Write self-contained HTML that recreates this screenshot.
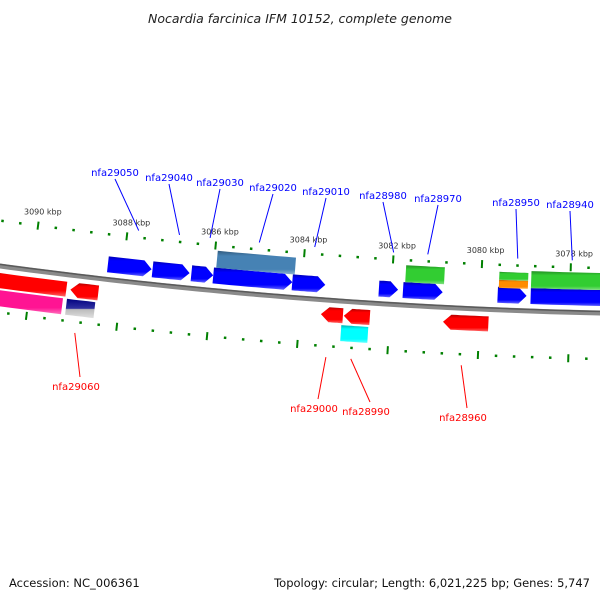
<!DOCTYPE html>
<html><head><meta charset="utf-8"><style>
html,body{margin:0;padding:0;background:#fff;width:600px;height:600px;overflow:hidden}
svg{display:block}
text{font-family:"DejaVu Sans","Liberation Sans",sans-serif}
</style></head><body>
<svg id="map" width="600" height="600" viewBox="0 0 600 600">
<defs></defs>
<text x="300" y="23" text-anchor="middle" font-size="12.5" font-style="italic" fill="#222">Nocardia farcinica IFM 10152, complete genome</text>
<g id="ticks"></g>
<g id="backbone"></g>
<g id="genes"></g>
<g id="labels"></g>
<text x="9" y="587" font-size="11.5" fill="#111">Accession: NC_006361</text>
<text x="590" y="587" text-anchor="end" font-size="11.5" fill="#111">Topology: circular; Length: 6,021,225 bp; Genes: 5,747</text>
</svg>
<script>
// data
const tickMajorKbp = [3090, 3088, 3086, 3084, 3082, 3080, 3078];
const tickLabels = ["3090 kbp", "3088 kbp", "3086 kbp", "3084 kbp", "3082 kbp", "3080 kbp", "3078 kbp"];
const geneNames = ["nfa29050","nfa29040","nfa29030","nfa29020","nfa29010","nfa28980","nfa28970","nfa28950a","nfa28950","nfa28940","nfa28940b","nfa28960","nfa29060","nfa29060b","nfa29000","nfa28990","nfa28990b","nfa28960r","nfa29070","nfa29080","nfa28950o","nfa28930"];
const geneStart = [3088.35,3087.35,3086.48,3085.99,3084.22,3082.28,3081.74,3079.62,3085.94,3081.70,3079.60,3078.88,3089.11,3089.16,3083.53,3083.02,3083.06,3080.81,3091.5,3091.5,3079.60,3078.88];
const geneEnd   = [3087.37,3086.52,3085.99,3084.22,3083.48,3081.85,3080.85,3078.97,3084.18,3080.83,3078.95,3077.0,3088.49,3088.53,3083.04,3082.44,3082.46,3079.80,3089.20,3089.25,3078.95,3077.0];
const geneStrand = [1,1,1,1,1,1,1,1,0,0,0,0,-1,0,-1,-1,0,-1,-1,0,0,0];
const geneRow = [1,1,1,1,1,1,1,1,2,2,2,1,1,2,1,1,2,1,1,2,2,2];
const geneSide = [-1,-1,-1,-1,-1,-1,-1,-1,-1,-1,-1,-1,1,1,1,1,1,1,1,1,-1,-1];
const geneColor = ["#0000ff","#0000ff","#0000ff","#0000ff","#0000ff","#0000ff","#0000ff","#0000ff","#4682b4","#32cd32","#32cd32","#0000ff","#ff0000","#000080","#ff0000","#ff0000","#00ffff","#ff0000","#ff0000","#ff1493","#ff8c00","#32cd32"];
const labelTexts = ["nfa29050","nfa29040","nfa29030","nfa29020","nfa29010","nfa28980","nfa28970","nfa28950","nfa28940","nfa29060","nfa29000","nfa28990","nfa28960"];
const labelKbp = [3087.75,3086.83,3086.14,3085.03,3083.78,3082.0,3081.23,3079.2,3077.97,3088.9,3083.35,3082.8,3080.36];
const labelSide = [-1,-1,-1,-1,-1,-1,-1,-1,-1,1,1,1,1];
// label text layout (annotation placement, not data)
const labelTextX = [115,169,220,273,326,383,438,516,570,76,314,366,463];
const labelTextY = [176,181,186,191,195,199,202,206,208,390,412,415,421];

const NS="http://www.w3.org/2000/svg";
function el(t,a,p){const e=document.createElementNS(NS,t);for(const k in a)e.setAttribute(k,a[k]);p.appendChild(e);return e;}
function kx(k){return 32.3+(3090-k)*44.77;}
function bb(x){return 266+0.135*x-9.44e-5*x*x;}
function slope(x){return 0.135-2*9.44e-5*x;}
function pt(k,off){const x=kx(k);const s=slope(x);const n=Math.sqrt(1+s*s);return [x-s*off/n,bb(x)+off/n];}

const bbg=document.getElementById('backbone');
let d="";for(let x=-10;x<=610;x+=10){d+=(x===-10?"M":"L")+x+","+bb(x).toFixed(2);}
const bbl=el('path',{d:d,fill:"none",stroke:"#8a8a8a","stroke-width":"5"},bbg);


const bbt=el('path',{d:d,fill:"none",stroke:"#5a5a5a","stroke-width":"1.5",transform:"translate(0,-1.6)"},bbg);



const tg=document.getElementById('ticks');
for(let k=3092;k>=3076.4;k-=0.4){
  const kk=Math.round(k*10)/10;
  const major=Math.abs(kk-Math.round(kk/2)*2)<0.01;
  [-45,46].forEach(off=>{
    const len=major?8:2.5;
    const a=pt(kk,off-len/2),b=pt(kk,off+len/2);
    const l=el('line',{x1:a[0],y1:a[1],x2:b[0],y2:b[1],stroke:"#008000","stroke-width":major?2:2.5},tg);
    
    
  });
}
tickMajorKbp.forEach((k,i)=>{
  const p=pt(k,-59);
  const t=el('text',{x:p[0]+3,y:p[1]+3,"text-anchor":"middle","font-size":"8",fill:"#333"},tg);
  t.textContent=tickLabels[i];
  
  
});

const gg=document.getElementById('genes');
function shade(c,f){const n=parseInt(c.slice(1),16);let r=n>>16,g=(n>>8)&255,b=n&255;
  if(f<0){r*=1+f;g*=1+f;b*=1+f;}else{r+=(255-r)*f;g+=(255-g)*f;b+=(255-b)*f;}
  return "rgb("+Math.round(r)+","+Math.round(g)+","+Math.round(b)+")";}
const defs=document.querySelector('defs');
geneStart.forEach((s,i)=>{
  const e=geneEnd[i],side=geneSide[i],row=geneRow[i];
  let o1,o2;
  if(side<0){ if(row===1){o1=-23;o2=-7;} else {o1=-40;o2=-23;} }
  else { if(row===1){o1=7;o2=22;} else {o1=24;o2=40;} }
  if(i===10){o1=-38;o2=-30;} if(i===20){o1=-30;o2=-22;}
  const gid="g"+i;
  const lg=el('linearGradient',{id:gid,x1:0,y1:0,x2:0,y2:1},defs);
  const c=geneColor[i];
  if(i===13){
    el('stop',{offset:0,"stop-color":"#000080"},lg);el('stop',{offset:0.5,"stop-color":"#3030a0"},lg);
    el('stop',{offset:0.55,"stop-color":"#bbbbbb"},lg);el('stop',{offset:1,"stop-color":"#e0e0e0"},lg);
  } else {
    el('stop',{offset:0,"stop-color":shade(c,-0.3)},lg);el('stop',{offset:0.22,"stop-color":c},lg);
    el('stop',{offset:0.78,"stop-color":c},lg);el('stop',{offset:1,"stop-color":shade(c,0.4)},lg);
  }
  const head=8;
  const pts=[];
  const hi=Math.max(s,e),lo=Math.min(s,e);
  const st=geneStrand[i];
  const kh=head/44.77;
  const tl=st===-1?hi-kh:hi, tr=st===1?lo+kh:lo;
  for(let j=0;j<=8;j++){const k=tl-(tl-tr)*j/8;pts.push(pt(k,o1));}
  if(st===1)pts.push(pt(lo,(o1+o2)/2));
  for(let j=0;j<=8;j++){const k=tr+(tl-tr)*j/8;pts.push(pt(k,o2));}
  if(st===-1)pts.push(pt(hi,(o1+o2)/2));
  const poly=el('polygon',{points:pts.map(p=>p[0].toFixed(1)+","+p[1].toFixed(1)).join(" "),fill:"url(#"+gid+")"},gg);
  
  
});

const lgp=document.getElementById('labels');
labelTexts.forEach((t,i)=>{
  const side=labelSide[i];
  const col=side<0?"#0000ff":"#ff0000";
  const a=pt(labelKbp[i],side<0?-52:57);
  const tx0=labelTextX[i],ty0=labelTextY[i];
  const by=side<0?ty0+3:ty0-13;
  const ln=el('line',{x1:a[0],y1:a[1],x2:tx0+(side<0?0:4),y2:by,stroke:col,"stroke-width":"1"},lgp);
  
  
  const tx=el('text',{x:tx0,y:ty0,"text-anchor":"middle","font-size":"10",fill:col},lgp);
  tx.textContent=t;
  
  
});
</script>
</body></html>
